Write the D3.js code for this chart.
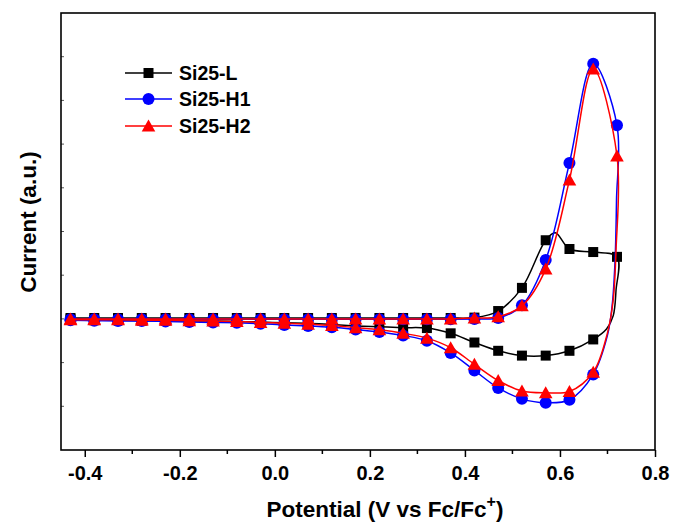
<!DOCTYPE html>
<html>
<head>
<meta charset="utf-8">
<script src="https://cdn.jsdelivr.net/npm/d3@7/dist/d3.min.js"></script>
<style>
  html, body { margin: 0; padding: 0; background: #fff; }
  svg { display: block; font-family: "Liberation Sans", Arial, sans-serif; }
</style>
</head>
<body>
<svg id="chart" width="675" height="525"></svg>
<script>
// ---------- data ----------
const seriesNames = ["Si25-L", "Si25-H1", "Si25-H2"];
const xTickValues = [-0.4, -0.2, 0.0, 0.2, 0.4, 0.6, 0.8];
const xTickLabels = ["-0.4", "-0.2", "0.0", "0.2", "0.4", "0.6", "0.8"];

// forward (anodic) sweep potentials, V vs Fc/Fc+
const potentialForward = [-0.43,-0.38,-0.33,-0.28,-0.23,-0.18,-0.13,-0.08,-0.03,0.02,0.07,0.12,0.17,0.22,0.27,0.32,0.37,0.42,0.47,0.52,0.57,0.62,0.67,0.72];
// reverse (cathodic) sweep potentials
const potentialReverse = [0.67,0.62,0.57,0.52,0.47,0.42,0.37,0.32,0.27,0.22,0.17,0.12,0.07,0.02,-0.03,-0.08,-0.13,-0.18,-0.23,-0.28,-0.33,-0.38,-0.43];

// currents (a.u.)
const L_forward  = [0.02,0.02,0.02,0.02,0.02,0.02,0.02,0.02,0.02,0.02,0.02,0.02,0.02,0.02,0.02,0.02,0.02,0.03,0.18,0.71,1.80,1.60,1.53,1.42];
const L_reverse  = [-0.47,-0.73,-0.84,-0.84,-0.73,-0.54,-0.33,-0.21,-0.20,-0.18,-0.16,-0.13,-0.10,-0.09,-0.07,-0.06,-0.05,-0.05,-0.04,-0.04,-0.03,-0.03,-0.01];
const H1_forward = [-0.01,-0.01,-0.01,-0.01,-0.01,-0.01,-0.01,-0.01,-0.01,-0.01,-0.01,-0.01,-0.01,-0.01,-0.01,-0.01,-0.01,0.00,0.02,0.31,1.35,3.57,5.84,4.43];
const H1_reverse = [-1.27,-1.85,-1.92,-1.83,-1.58,-1.18,-0.78,-0.50,-0.38,-0.30,-0.24,-0.19,-0.16,-0.14,-0.11,-0.09,-0.08,-0.07,-0.06,-0.05,-0.05,-0.04,-0.03];
const H2_forward = [0.00,0.00,0.00,0.00,0.00,0.00,0.00,0.00,0.00,0.00,0.00,0.00,0.00,0.00,0.00,0.00,0.00,0.02,0.05,0.30,1.14,3.18,5.72,3.73];
const H2_reverse = [-1.22,-1.66,-1.69,-1.65,-1.41,-1.04,-0.66,-0.44,-0.33,-0.25,-0.20,-0.15,-0.12,-0.10,-0.08,-0.06,-0.05,-0.04,-0.03,-0.03,-0.02,-0.02,-0.02];

// extra (unmarked) curve points
const L_peakX  = [0.59];            const L_peakY  = [1.97];
const L_turnX  = [0.718, 0.712, 0.698];          const L_turnY  = [0.66, 0.07, -0.23];
const H1_turnX = [0.719, 0.716, 0.71, 0.70];     const H1_turnY = [2.72, 1.35, 0.32, -0.37];
const H2_turnX = [0.718, 0.712, 0.70];           const H2_turnY = [1.58, 0.43, -0.32];

const seriesColors = ["#000000", "#0000ff", "#ff0000"];
const seriesSymbols = ["square", "circle", "triangle"];

// ---------- layout ----------
const svg = d3.select("#chart");
const W = 675, H = 525;
const plot = { left: 61, top: 13, right: 655, bottom: 450 };

svg.append("rect").attr("width", W).attr("height", H).attr("fill", "#fff");

const x = d3.scaleLinear().domain([-0.45, 0.8]).range([plot.left, plot.right]);
const y = d3.scaleLinear().domain([-3, 7]).range([plot.bottom, plot.top]);

// ---------- build series ----------
function zip(a, b) { return a.map((v, i) => [v, b[i]]); }
const series = [
  { fwd: zip(potentialForward, L_forward),  rev: zip(potentialReverse, L_reverse),
    extra: zip(L_peakX, L_peakY), turn: zip(L_turnX, L_turnY) },
  { fwd: zip(potentialForward, H1_forward), rev: zip(potentialReverse, H1_reverse),
    extra: [], turn: zip(H1_turnX, H1_turnY) },
  { fwd: zip(potentialForward, H2_forward), rev: zip(potentialReverse, H2_reverse),
    extra: [], turn: zip(H2_turnX, H2_turnY) }
];

const line = d3.line().x(d => x(d[0])).y(d => y(d[1])).curve(d3.curveCatmullRom.alpha(0.5));

function symbolPath(kind) {
  if (kind === "square") return "M-5,-5H5V5H-5Z";
  if (kind === "circle") return "M6,0A6,6 0 1,1 -6,0A6,6 0 1,1 6,0Z";
  return "M0,-6.5L6.8,5.5L-6.8,5.5Z";
}

const gData = svg.append("g");

series.forEach((s, i) => {
  const fwdLine = s.fwd.concat(s.extra).sort((a, b) => a[0] - b[0]);
  const loop = fwdLine.concat(s.turn).concat(s.rev);
  const g = gData.append("g");
  g.append("path").attr("d", line(loop))
    .attr("fill", "none").attr("stroke", seriesColors[i])
    .attr("stroke-width", 1.5).attr("stroke-linejoin", "round");
  g.selectAll("path.m").data(s.fwd.concat(s.rev)).enter().append("path")
    .attr("class", "m")
    .attr("transform", d => `translate(${x(d[0])},${y(d[1])})`)
    .attr("d", symbolPath(seriesSymbols[i]))
    .attr("fill", seriesColors[i]);
});

// ---------- axes ----------
const xAxis = d3.axisBottom(x).tickValues(xTickValues)
  .tickFormat((d, i) => xTickLabels[i]).tickSize(7).tickSizeOuter(0);
const gx = svg.append("g").attr("transform", `translate(0,${plot.bottom})`).call(xAxis);
gx.select(".domain").remove();
gx.selectAll(".tick line").attr("stroke", "#000").attr("stroke-width", 1.5);
gx.selectAll(".tick text").attr("font-size", 20).attr("font-weight", "bold")
  .attr("fill", "#000").attr("dy", null).attr("y", 30);

const xMinor = d3.range(-0.3, 0.8, 0.2);
svg.append("g").selectAll("line").data(xMinor).enter().append("line")
  .attr("x1", d => x(d)).attr("x2", d => x(d))
  .attr("y1", plot.bottom).attr("y2", plot.bottom + 4)
  .attr("stroke", "#000").attr("stroke-width", 1.5);

// left axis: small inward ticks, no labels
const yTicks = d3.range(-2, 7, 1);
svg.append("g").selectAll("line").data(yTicks).enter().append("line")
  .attr("x1", plot.left).attr("x2", plot.left + 3)
  .attr("y1", d => y(d)).attr("y2", d => y(d))
  .attr("stroke", "#555").attr("stroke-width", 1);

// frame
svg.append("rect").attr("x", plot.left).attr("y", plot.top)
  .attr("width", plot.right - plot.left).attr("height", plot.bottom - plot.top)
  .attr("fill", "none").attr("stroke", "#000").attr("stroke-width", 1.6);

// titles
const xt = svg.append("text").attr("x", 385).attr("y", 517)
  .attr("text-anchor", "middle").attr("font-size", 22.5).attr("font-weight", "bold").attr("fill", "#000");
xt.append("tspan").text("Potential (V vs Fc/Fc");
xt.append("tspan").attr("font-size", 16).attr("dy", -10).text("+");
xt.append("tspan").attr("dy", 10).text(")");

svg.append("text").attr("transform", "translate(36,222) rotate(-90)")
  .attr("text-anchor", "middle").attr("font-size", 22.5).attr("font-weight", "bold")
  .attr("fill", "#000").text("Current (a.u.)");

// legend
const legendY = [73, 99, 126];
const lg = svg.append("g");
seriesNames.forEach((name, i) => {
  lg.append("line").attr("x1", 125).attr("x2", 172).attr("y1", legendY[i]).attr("y2", legendY[i])
    .attr("stroke", seriesColors[i]).attr("stroke-width", 1.5);
  lg.append("path").attr("transform", `translate(148.5,${legendY[i]})`)
    .attr("d", symbolPath(seriesSymbols[i])).attr("fill", seriesColors[i]);
  lg.append("text").attr("x", 179).attr("y", legendY[i]).attr("dy", "0.35em")
    .attr("font-size", 19.5).attr("font-weight", "bold").attr("fill", "#000").text(name);
});
</script>
</body>
</html>
